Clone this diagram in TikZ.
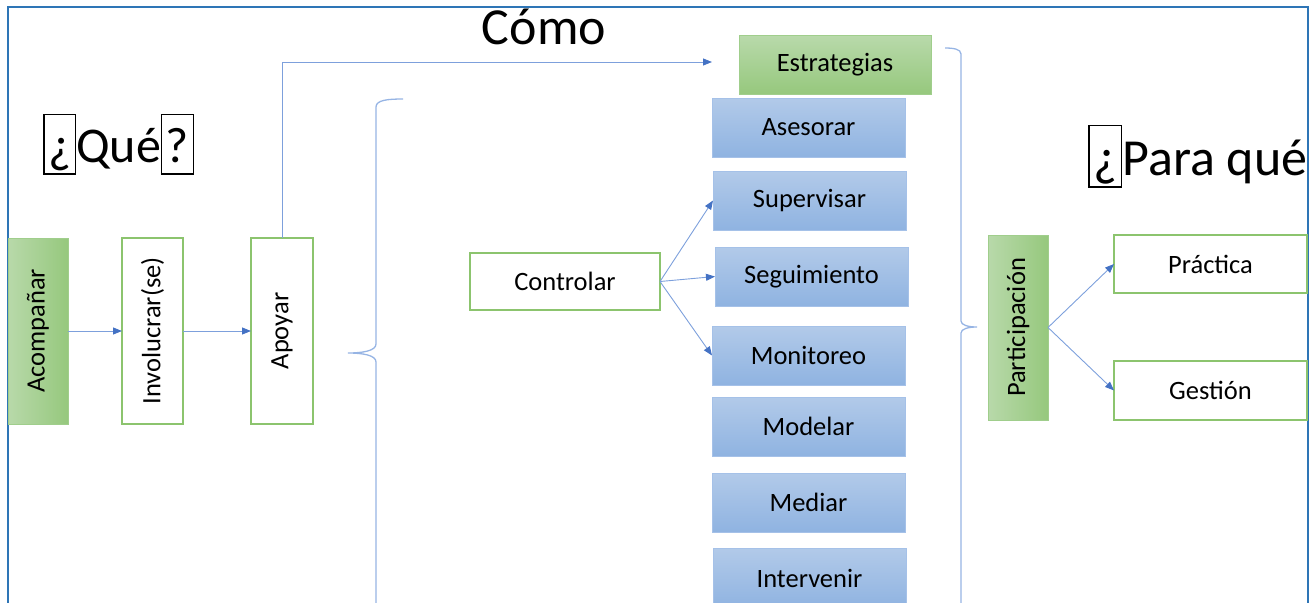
\documentclass[tikz,border=0pt]{standalone}
\usepackage{fontspec}
\setmainfont{Carlito}
\usetikzlibrary{arrows.meta}
\definecolor{frameblue}{HTML}{2E75B6}
\definecolor{arrowblue}{HTML}{4472C4}
\definecolor{lineblue}{RGB}{125,160,220}
\definecolor{bracecol}{RGB}{150,180,228}
\definecolor{greenline}{RGB}{140,196,110}
\definecolor{greenlight}{RGB}{184,217,170}
\definecolor{greendark}{RGB}{150,200,125}
\definecolor{greenedge}{RGB}{160,206,140}
\definecolor{bluelight}{RGB}{178,202,233}
\definecolor{bluedark}{RGB}{143,179,225}
\definecolor{blueline}{RGB}{165,193,232}
\newcommand\bxch[1]{{\setlength\fboxsep{0pt}\setlength\fboxrule{1.5pt}\fbox{\rule[-0.22em]{0pt}{1.16em}\hspace{0.07em}#1\hspace{0.07em}}}}
\tikzset{
  lbl/.style={font=\fontsize{26.5}{30}\selectfont, text=black, inner sep=0pt, outer sep=0pt, anchor=north west},
  whitebox/.style={lbl, draw=greenline, line width=1.4pt, fill=white},
  greenvbox/.style={lbl, draw=greenedge, line width=1pt, left color=greenlight, right color=greendark},
  greenhbox/.style={lbl, draw=greenedge, line width=1pt, top color=greenlight, bottom color=greendark},
  bluebox/.style={lbl, draw=blueline, line width=1pt, top color=bluelight, bottom color=bluedark, minimum width=193pt, minimum height=59pt},
  conn/.style={draw=lineblue, line width=0.9pt, -{Triangle[length=9pt,width=7pt,color=arrowblue]}},
  bracepath/.style={draw=bracecol, line width=1.3pt},
  title/.style={font=\fontsize{50}{56}\selectfont, inner sep=0pt, outer sep=0pt},
  framepath/.style={draw=frameblue, line width=2pt}
}
\begin{document}
\begin{tikzpicture}[x=1pt,y=-1pt]
\useasboundingbox (0,0) rectangle (1311,602);
\clip (0,0) rectangle (1311,602);
% outer frame
\draw[framepath] (7.5,610) -- (7.5,7.5) -- (1308,7.5) -- (1308,610);
% titles
\node[title, anchor=base] (como) at (544,45) {\fontsize{52}{56}\selectfont Cómo};
\node[title, anchor=base west] (que) at (43,162) {\bxch{¿}Qué\bxch{?}};
\node[title, anchor=base west] (paraque) at (1088,175) {\fontsize{52}{56}\selectfont\bxch{¿}Para qué};
% left column
\node[greenvbox, minimum width=60pt, minimum height=186pt] (acomp) at (8,238) {\rotatebox{90}{Acompañar}};
\node[whitebox, minimum width=61pt, minimum height=186pt] (invol) at (122,238) {\rotatebox{90}{Involucrar(se)}};
\node[whitebox, minimum width=62pt, minimum height=186pt] (apoyar) at (251,238) {\rotatebox{90}{Apoyar}};
\draw[conn] (acomp) -- (invol);
\draw[conn] (invol) -- (apoyar);
% Estrategias
\node[greenhbox, minimum width=192pt, minimum height=58pt] (estr) at (739,36) {Estrategias};
\coordinate (estrtip) at (712,62);
\draw[conn] (apoyar.north) |- (estrtip);
% controlar
\node[whitebox, minimum width=190pt, minimum height=57pt] (contr) at (470,253) {Controlar};
% blue boxes
\node[bluebox] (asesorar) at (712,98) {Asesorar};
\node[bluebox] (superv) at (713,171) {Supervisar};
\node[bluebox] (seguim) at (715,247) {Seguimiento};
\node[bluebox] (monit) at (712,326) {Monitoreo};
\node[bluebox] (modelar) at (712,397) {Modelar};
\node[bluebox] (mediar) at (712,473) {Mediar};
\node[bluebox, minimum height=60pt] (interv) at (713,548) {\raisebox{0pt}{Intervenir}};
\draw[conn] (contr.east) -- (superv.west);
\draw[conn] (contr.east) -- (seguim.west);
\draw[conn] (contr.east) -- (monit.west);
% braces
\draw[bracepath] (403,99) .. controls (388,99) and (376,100) .. (376,107) -- (376,344)
  .. controls (376,351) and (362,353) .. (348,353)
  .. controls (362,353) and (376,355) .. (376,362) -- (376,610);
\draw[bracepath] (945,48) .. controls (953,48) and (961,49) .. (961,54) -- (961,321)
  .. controls (961,325) and (968,327) .. (977,327)
  .. controls (968,327) and (961,329) .. (961,333) -- (961,610);
% right part
\node[greenvbox, minimum width=60pt, minimum height=185pt] (partic) at (988,235) {\rotatebox{90}{Participación}};
\node[whitebox, minimum width=193pt, minimum height=58pt] (practica) at (1114,235) {Práctica};
\node[whitebox, minimum width=193pt, minimum height=59pt] (gestion) at (1114,361) {Gestión};
\draw[conn] (partic.east) -- (practica.west);
\draw[conn] (partic.east) -- (gestion.west);
\end{tikzpicture}
\end{document}
